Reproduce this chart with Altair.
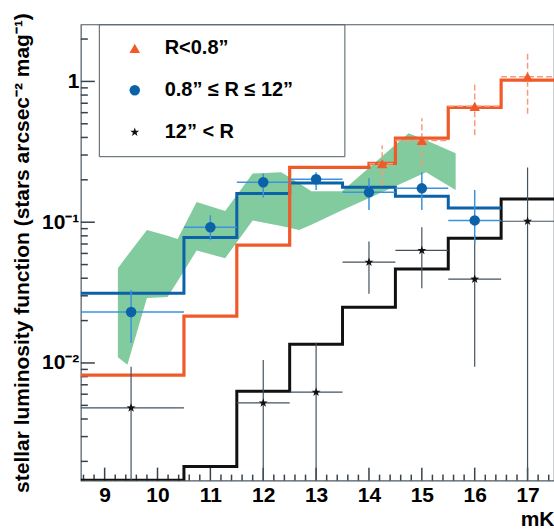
import altair as alt
import pandas as pd

FONT = "Liberation Sans"
ORANGE = "#f05a28"
ORANGE_LIGHT = "#f59b7c"
BLUE = "#0b62a8"
BLUE_LIGHT = "#3a93dc"
BLACK = "#111111"
ERR_GRAY = "#44525c"
GRAY = "#4e5a63"
TICK = "#36424c"
GREEN = "#82cb9e"

series_names = ["R<0.8\u201d", "0.8\u201d \u2264 R \u2264 12\u201d", "12\u201d < R"]

orange_edges = [8.5, 10.5, 11.5, 12.5, 14.0, 14.5, 15.5, 16.5, 17.5]
orange_vals = [0.0082, 0.0215, 0.0687, 0.245, 0.262, 0.395, 0.654, 1.02]
blue_edges = [8.5, 10.5, 11.5, 12.5, 13.5, 14.5, 15.5, 16.5]
blue_vals = [0.0313, 0.078, 0.16, 0.19, 0.177, 0.153, 0.126]
black_edges = [8.5, 10.5, 11.5, 12.5, 13.5, 14.5, 15.5, 16.5, 17.5]
black_vals = [0.00147, 0.00184, 0.0063, 0.0136, 0.0249, 0.0465, 0.077, 0.146]

tri_x = [14.25, 15.0, 16.0, 17.0]
tri_y = [0.26, 0.38, 0.665, 1.08]
tri_xerr = [0.25, 0.5, 0.5, 0.5]
tri_ylo = [0.183, 0.25, 0.414, 0.59]
tri_yhi = [0.351, 0.547, 0.968, 1.63]

dot_x = [9.5, 11.0, 12.0, 13.0, 14.0, 15.0, 16.0]
dot_y = [0.023, 0.092, 0.192, 0.202, 0.163, 0.174, 0.103]
dot_xerr = [1.0, 0.5, 0.5, 0.5, 0.5, 0.5, 0.5]
dot_ylo = [0.0139, 0.0744, 0.150, 0.169, 0.122, 0.122, 0.071]
dot_yhi = [0.033, 0.112, 0.222, 0.226, 0.205, 0.226, 0.169]

star_x = [9.5, 12.0, 13.0, 14.0, 15.0, 16.0, 17.0]
star_y = [0.0048, 0.0052, 0.0062, 0.052, 0.063, 0.0394, 0.1016]
star_xerr = [1.0, 0.5, 0.5, 0.5, 0.5, 0.5, 0.5]
star_ylo = [0.001, 0.001, 0.001, 0.031, 0.034, 0.0094, 0.001]
star_yhi = [0.0094, 0.0105, 0.0139, 0.073, 0.092, 0.08, 0.245]

band_x = [9.25, 9.43, 9.8, 10.19, 10.38, 10.74, 11.28, 11.8, 12.34, 12.68, 12.91, 13.49, 14.75, 15.08, 15.64]
band_hi = [0.047, 0.058, 0.088, 0.080, 0.076, 0.139, 0.120, 0.222, 0.226, 0.189, 0.166, 0.166, 0.428, 0.382, 0.309]
band_lo = [0.011, 0.0097, 0.029, 0.0294, 0.038, 0.063, 0.0555, 0.103, 0.094, 0.088, 0.096, 0.1216, 0.199, 0.226, 0.169]

X_DOMAIN = [8.55, 17.5]
Y_DOMAIN = [0.00146, 2.54]
x_major = [9, 10, 11, 12, 13, 14, 15, 16, 17]
x_minor = [round(8.6 + 0.2 * i, 1) for i in range(45)]
x_minor = [v for v in x_minor if abs(v - round(v)) > 0.05 and v < 17.5]
y_major = [0.01, 0.1, 1]
y_minor = [m * 10.0 ** e for e in (-3, -2, -1, 0) for m in range(2, 10)]
y_minor = [v for v in y_minor if Y_DOMAIN[0] <= v <= Y_DOMAIN[1]]

STAR = ("M0,-0.9L0.212,-0.291L0.856,-0.278L0.342,0.111L0.529,0.728L0,0.36"
        "L-0.529,0.728L-0.342,0.111L-0.856,-0.278L-0.212,-0.291Z")


def steps(edges, vals, name):
    n = len(vals)
    return pd.DataFrame({"x": list(edges[:n]) + [edges[n]],
                         "y": list(vals) + [vals[-1]], "series": name})


def errs(xs_, ys_, xerr, ylo, yhi, name):
    return pd.DataFrame({"x": xs_, "y": ys_,
                         "xlo": [a - b for a, b in zip(xs_, xerr)],
                         "xhi": [a + b for a, b in zip(xs_, xerr)],
                         "ylo": ylo, "yhi": yhi, "series": name})


band_df = pd.DataFrame({"x": band_x, "lo": band_lo, "hi": band_hi})
st_orange = steps(orange_edges, orange_vals, series_names[0])
st_blue = steps(blue_edges, blue_vals, series_names[1])
st_black = steps(black_edges, black_vals, series_names[2])
e_tri = errs(tri_x, tri_y, tri_xerr, tri_ylo, tri_yhi, series_names[0])
e_dot = errs(dot_x, dot_y, dot_xerr, dot_ylo, dot_yhi, series_names[1])
e_star = errs(star_x, star_y, star_xerr, star_ylo, star_yhi, series_names[2])
pts_df = pd.concat([e_star, e_dot, e_tri], ignore_index=True)

W, H = 474, 457
XS = alt.Scale(domain=X_DOMAIN, nice=False, zero=False)
YS = alt.Scale(type="log", domain=Y_DOMAIN, nice=False)

xa_lab = alt.Axis(orient="bottom", values=x_major, format="d", ticks=False, tickSize=0,
                  domain=False, grid=False, labelFont=FONT, labelFontSize=21,
                  labelFontWeight="bold", labelColor="black", labelPadding=4,
                  title="mK", titleFont=FONT, titleFontSize=21, titleFontWeight="bold",
                  titleColor="black", titleAnchor="end", titleAlign="right",
                  titleX=W, titleY=45, titleBaseline="alphabetic")
ya_lab = alt.Axis(orient="left", values=y_major, ticks=False, tickSize=0, domain=False,
                  grid=False, labelFont=FONT, labelFontSize=21, labelFontWeight="bold",
                  labelColor="black", labelPadding=2,
                  labelExpr="datum.value > 0.5 ? '1' : (datum.value > 0.05 ? '10\u207b\u00b9' : '10\u207b\u00b2')",
                  title="stellar luminosity function (stars arcsec\u207b\u00b2 mag\u207b\u00b9)",
                  titleFont=FONT, titleFontSize=21, titleFontWeight="bold", titleColor="black",
                  titleAngle=-90, titleX=-58, titleY=H / 2, titleAlign="center",
                  titleBaseline="middle")

band = alt.Chart(band_df).mark_area(color=GREEN, opacity=1, clip=True).encode(
    x=alt.X("x:Q", scale=XS, axis=xa_lab),
    y=alt.Y("lo:Q", scale=YS, axis=ya_lab),
    y2="hi:Q",
)


# inward-pointing axis ticks (ROOT style), anchored on the axis edges
def xticks(vals, length):
    df = pd.DataFrame({"x": vals, "y": Y_DOMAIN[0]})
    return alt.Chart(df).mark_tick(orient="vertical", size=length, thickness=1.5,
                                   color=TICK, yOffset=-length / 2, opacity=1).encode(
        x=alt.X("x:Q", scale=XS, axis=None), y=alt.Y("y:Q", scale=YS, axis=None))


def yticks(vals, length):
    df = pd.DataFrame({"x": X_DOMAIN[0], "y": vals})
    return alt.Chart(df).mark_tick(orient="horizontal", size=length, thickness=1.5,
                                   color=TICK, xOffset=length / 2, opacity=1).encode(
        x=alt.X("x:Q", scale=XS, axis=None), y=alt.Y("y:Q", scale=YS, axis=None))


ticks = [xticks(x_major, 13), xticks(x_minor, 6), yticks(y_major, 14), yticks(y_minor, 7)]


def step_layer(df, color, width):
    return alt.Chart(df).mark_line(interpolate="step-after", color=color,
                                   strokeWidth=width, clip=True).encode(
        x=alt.X("x:Q", scale=XS, axis=None),
        y=alt.Y("y:Q", scale=YS, axis=None),
    )


l_black = step_layer(st_black, BLACK, 3)
l_blue = step_layer(st_blue, BLUE, 3)
l_orange = step_layer(st_orange, ORANGE, 3.2)


def err_layers(df, color, width, dash=None):
    kw = {"color": color, "strokeWidth": width, "clip": True}
    if dash:
        kw["strokeDash"] = dash
    h = alt.Chart(df).mark_rule(**kw).encode(
        x=alt.X("xlo:Q", scale=XS, axis=None), x2="xhi:Q",
        y=alt.Y("y:Q", scale=YS, axis=None))
    v = alt.Chart(df).mark_rule(**kw).encode(
        x=alt.X("x:Q", scale=XS, axis=None),
        y=alt.Y("ylo:Q", scale=YS, axis=None), y2="yhi:Q")
    return [h, v]


errors = (err_layers(e_star, ERR_GRAY, 1.2) + err_layers(e_dot, BLUE_LIGHT, 1.5)
          + err_layers(e_tri, ORANGE_LIGHT, 1.5, [6, 3]))

PADSTR = "\u00a0" * 4 + "\u2800"
leg = alt.Legend(title=None, orient="none", legendX=18, legendY=0, padding=14,
                 strokeColor=GRAY, fillColor="white", labelFont=FONT, labelFontSize=20,
                 labelFontWeight="bold", labelColor="black", labelLimit=400, symbolSize=110,
                 symbolOffset=12, labelOffset=20, rowPadding=22,
                 labelExpr="datum.label + '" + PADSTR + "'")

pts = alt.Chart(pts_df).mark_point(filled=True, opacity=1, size=110).encode(
    x=alt.X("x:Q", scale=XS, axis=None),
    y=alt.Y("y:Q", scale=YS, axis=None),
    color=alt.Color("series:N", scale=alt.Scale(domain=series_names,
                                                range=[ORANGE, BLUE, BLACK]), legend=leg),
    shape=alt.Shape("series:N", scale=alt.Scale(domain=series_names,
                                                range=["triangle-up", "circle", STAR]), legend=leg),
)

chart = alt.layer(band, *ticks, l_black, l_blue, l_orange, *errors, pts).resolve_axis(
    x="independent", y="independent"
).properties(
    width=W, height=H,
    padding={"left": 81, "top": 24, "right": 0, "bottom": 48},
    autosize=alt.AutoSizeParams(type="none"),
    background="white",
).configure_view(stroke=GRAY, strokeWidth=1.2)

chart.save("out.html", embed_options={"renderer": "svg", "actions": False})
